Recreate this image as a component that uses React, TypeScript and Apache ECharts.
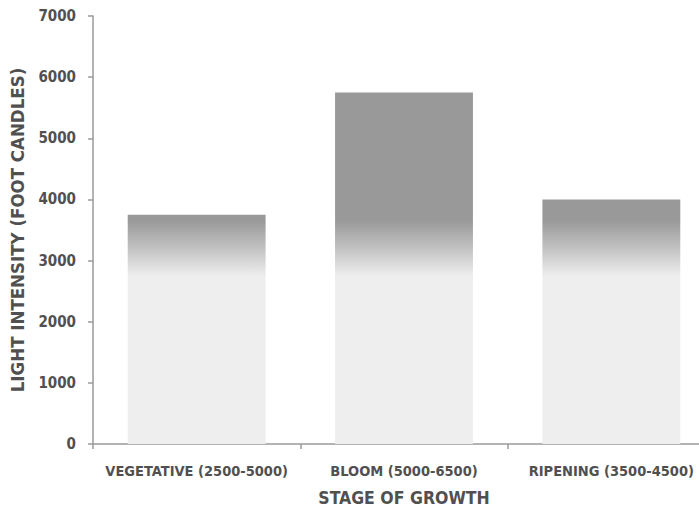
import React, { useEffect, useRef } from "react";
import * as echarts from "echarts";

const categories = ["VEGETATIVE (2500-5000)", "BLOOM (5000-6500)", "RIPENING (3500-4500)"];
const values = [3750, 5750, 4000];
const yTicks = [0, 1000, 2000, 3000, 4000, 5000, 6000, 7000];
const gradientTopValue = 3650;
const gradientBottomValue = 2750;

const FONT = "'DejaVu Sans Condensed', 'Liberation Sans Narrow', 'Roboto', sans-serif";
const TEXT = "#505050";

export default function App() {
  const ref = useRef<HTMLDivElement>(null);
  useEffect(() => {
    if (!ref.current) return;
    const chart = echarts.init(ref.current, undefined, { renderer: "svg" });
    const makeOption = (color: any) => ({
      animation: false,
      grid: {
        left: 93,
        top: 16,
        height: 428,
        width: 622,
        containLabel: false,
        outerBoundsMode: "none",
      },
      xAxis: {
        type: "category",
        data: categories,
        name: "STAGE OF GROWTH",
        nameLocation: "middle",
        nameGap: 45,
        nameTextStyle: { fontFamily: FONT, fontWeight: "bold", fontSize: 17.5, color: TEXT },
        axisLine: { show: true, lineStyle: { color: "#9a9a9a", width: 1.5 } },
        axisTick: { show: true, length: 5, lineStyle: { color: "#9a9a9a", width: 1.5 } },
        axisLabel: {
          interval: 0,
          fontFamily: FONT,
          fontWeight: "bold",
          fontSize: 14.5,
          color: TEXT,
          margin: 19,
        },
      },
      yAxis: {
        type: "value",
        min: yTicks[0],
        max: yTicks[yTicks.length - 1],
        interval: 1000,
        name: "LIGHT INTENSITY (FOOT CANDLES)",
        nameLocation: "middle",
        nameGap: 66,
        nameTextStyle: { fontFamily: FONT, fontWeight: "bold", fontSize: 18.5, color: TEXT },
        axisLine: { show: true, lineStyle: { color: "#9a9a9a", width: 1.5 } },
        axisTick: { show: true, length: 5, lineStyle: { color: "#9a9a9a", width: 1.5 } },
        splitLine: { show: false },
        axisLabel: {
          fontFamily: FONT,
          fontWeight: "bold",
          fontSize: 15,
          color: TEXT,
          margin: 17,
          formatter: (v: number) => String(v),
        },
      },
      series: [
        {
          type: "bar",
          data: values,
          barWidth: "66.5%",
          itemStyle: { color },
        },
      ],
    });
    chart.setOption(makeOption("#999999"));
    const yTop = chart.convertToPixel({ yAxisIndex: 0 }, gradientTopValue) as number;
    const yBot = chart.convertToPixel({ yAxisIndex: 0 }, gradientBottomValue) as number;
    const grad = {
      type: "linear",
      x: 0,
      y: yTop,
      x2: 0,
      y2: yBot,
      global: true,
      colorStops: [
        { offset: 0, color: "#999999" },
        { offset: 0.5, color: "#c2c2c2" },
        { offset: 1, color: "#eeeeee" },
      ],
    };
    chart.setOption(makeOption(grad));
    return () => chart.dispose();
  }, []);
  return <div ref={ref} style={{ width: 699, height: 510, position: "absolute", left: 0, top: 0 }} />;
}
